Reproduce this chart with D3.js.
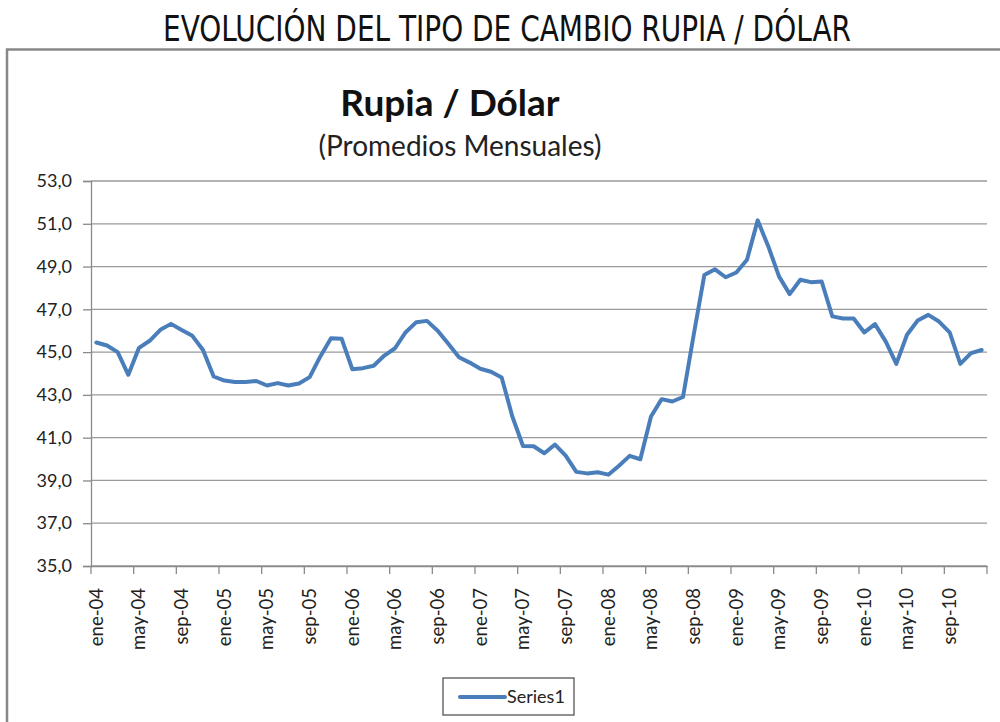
<!DOCTYPE html>
<html>
<head>
<meta charset="utf-8">
<script src="https://cdn.jsdelivr.net/npm/d3@7"></script>
<style>
  body { margin: 0; background: #fff; }
  svg { display: block; }
</style>
</head>
<body>
<div id="chart"></div>
<script>
// month names and years used to build the categories
let monthNames = ["ene", "feb", "mar", "abr", "may", "jun", "jul", "ago", "sep", "oct", "nov", "dic"];
let years = ["04", "05", "06", "07", "08", "09", "10"];

// tick labels shown on the x axis (every 4th month)
let tickLabels = ["ene-04", "may-04", "sep-04", "ene-05", "may-05", "sep-05", "ene-06", "may-06", "sep-06",
  "ene-07", "may-07", "sep-07", "ene-08", "may-08", "sep-08", "ene-09", "may-09", "sep-09", "ene-10", "may-10", "sep-10"];

// y axis ticks
let yTicks = [35, 37, 39, 41, 43, 45, 47, 49, 51, 53];

// Rupia / Dólar monthly averages
let values2004 = [45.45, 45.31, 45.00, 43.94, 45.20, 45.53, 46.04, 46.32, 46.03, 45.76, 45.10, 43.86];
let values2005 = [43.67, 43.60, 43.60, 43.65, 43.44, 43.55, 43.44, 43.53, 43.83, 44.80, 45.65, 45.62];
let values2006 = [44.20, 44.25, 44.36, 44.84, 45.18, 45.93, 46.40, 46.46, 46.00, 45.39, 44.76, 44.51];
let values2007 = [44.22, 44.08, 43.81, 41.99, 40.61, 40.60, 40.27, 40.68, 40.16, 39.40, 39.33, 39.38];
let values2008 = [39.27, 39.69, 40.15, 39.99, 41.99, 42.80, 42.69, 42.90, 45.80, 48.60, 48.87, 48.50];
let values2009 = [48.72, 49.32, 51.16, 49.94, 48.54, 47.71, 48.38, 48.27, 48.30, 46.67, 46.57, 46.57];
let values2010 = [45.92, 46.31, 45.50, 44.45, 45.81, 46.48, 46.74, 46.43, 45.92, 44.45, 44.95, 45.10];

let seriesName = "Series1";

function chartRupia(width, height, selector) {

  // categories and data points
  let categories = [];
  years.forEach(y => monthNames.forEach(m => categories.push(m + "-" + y)));
  let values = [].concat(values2004, values2005, values2006, values2007, values2008, values2009, values2010);
  let datapoints = categories.map((c, i) => ({ cat: c, value: values[i] }));

  ////////////////////////////
  //// Dimensions, scales ////
  ////////////////////////////

  let margin = { top: 181, left: 91, right: 13, bottom: 156 };
  let plotRight = width - margin.right;
  let plotBottom = height - margin.bottom;

  let x = d3.scaleBand()
    .domain(categories)
    .range([margin.left, plotRight])
    .padding(0);

  let y = d3.scaleLinear()
    .domain([35, 53])
    .range([plotBottom, margin.top]);

  let svg = d3.select(selector)
    .append("svg")
    .attr("width", width)
    .attr("height", height);

  // main title
  svg.append("text")
    .attr("x", 507)
    .attr("y", 41)
    .attr("text-anchor", "middle")
    .attr("textLength", 688)
    .attr("lengthAdjust", "spacingAndGlyphs")
    .style("font-family", "'Liberation Sans Narrow', 'Arial Narrow', 'DejaVu Sans Condensed', sans-serif")
    .style("font-stretch", "condensed")
    .style("font-size", "35px")
    .attr("fill", "#111")
    .text("EVOLUCIÓN DEL TIPO DE CAMBIO RUPIA / DÓLAR");

  // chart frame
  svg.append("rect")
    .attr("x", 7)
    .attr("y", 49.5)
    .attr("width", 1010)
    .attr("height", 700)
    .attr("fill", "none")
    .attr("stroke", "#888")
    .attr("stroke-width", 2.5);

  let font = "Lato, 'Open Sans', sans-serif";

  svg.append("text")
    .attr("x", 450)
    .attr("y", 116)
    .attr("text-anchor", "middle")
    .style("font-family", font)
    .style("font-weight", "bold")
    .style("font-size", "37px")
    .attr("fill", "#111")
    .text("Rupia / Dólar");

  svg.append("text")
    .attr("x", 460)
    .attr("y", 156)
    .attr("text-anchor", "middle")
    .style("font-family", font)
    .style("font-size", "28px")
    .attr("fill", "#222")
    .text("(Promedios Mensuales)");

  //////////////////
  //// Gridlines ///
  //////////////////

  svg.append("g")
    .selectAll("line")
    .data(yTicks)
    .join("line")
    .attr("x1", margin.left)
    .attr("x2", plotRight)
    .attr("y1", d => y(d))
    .attr("y2", d => y(d))
    .attr("stroke", "#9a9a9a")
    .attr("stroke-width", 1.3);

  // y axis
  let yAxis = svg.append("g")
    .attr("transform", "translate(" + margin.left + ",0)")
    .call(d3.axisLeft(y).tickValues(yTicks).tickSize(8).tickPadding(11)
      .tickFormat(d => d3.format(".1f")(d).replace(".", ",")));
  yAxis.select(".domain").attr("stroke", "#8a8a8a").attr("stroke-width", 1.3);
  yAxis.selectAll(".tick line").attr("stroke", "#8a8a8a").attr("stroke-width", 1.3);
  yAxis.selectAll("text")
    .style("font-family", font)
    .style("font-size", "18px")
    .attr("fill", "#222");

  // x axis
  let xAxis = svg.append("g")
    .attr("transform", "translate(0," + plotBottom + ")")
    .call(d3.axisBottom(x).tickValues(tickLabels).tickSize(0).tickSizeOuter(0));
  xAxis.select(".domain").attr("stroke", "#8a8a8a").attr("stroke-width", 1.3);
  xAxis.selectAll(".tick line").remove();
  xAxis.selectAll(".tick text")
    .attr("transform", "rotate(-90)")
    .attr("x", -22)
    .attr("y", 0)
    .attr("dy", "0.35em")
    .attr("text-anchor", "end")
    .style("font-family", font)
    .style("font-size", "18.5px")
    .attr("fill", "#222");

  // tick marks on the band edges, every 4 months, plus the closing one
  let tickEdges = tickLabels.map(t => x(t)).concat([x.range()[1]]);
  svg.append("g")
    .selectAll("line")
    .data(tickEdges)
    .join("line")
    .attr("x1", d => d)
    .attr("x2", d => d)
    .attr("y1", plotBottom)
    .attr("y2", plotBottom + 8)
    .attr("stroke", "#8a8a8a")
    .attr("stroke-width", 1.3);

  //////////////////
  //// The line ////
  //////////////////

  let line = d3.line()
    .x(d => x(d.cat) + x.bandwidth() / 2)
    .y(d => y(d.value));

  svg.append("path")
    .datum(datapoints)
    .attr("d", line)
    .attr("fill", "none")
    .attr("stroke", "#4a7ebb")
    .attr("stroke-width", 4)
    .attr("stroke-linejoin", "round")
    .attr("stroke-linecap", "round");

  ////////////////
  //// Legend ////
  ////////////////

  let legend = svg.append("g").attr("transform", "translate(443,678)");
  legend.append("rect")
    .attr("width", 131)
    .attr("height", 37)
    .attr("fill", "#fff")
    .attr("stroke", "#555")
    .attr("stroke-width", 1.3);
  legend.append("line")
    .attr("x1", 17)
    .attr("x2", 62)
    .attr("y1", 19)
    .attr("y2", 19)
    .attr("stroke", "#4a7ebb")
    .attr("stroke-width", 4)
    .attr("stroke-linecap", "round");
  legend.append("text")
    .attr("x", 64)
    .attr("y", 19)
    .attr("dy", "0.35em")
    .style("font-family", font)
    .style("font-size", "18px")
    .attr("fill", "#222")
    .text(seriesName);
}

chartRupia(1000, 722, "#chart");
</script>
</body>
</html>
